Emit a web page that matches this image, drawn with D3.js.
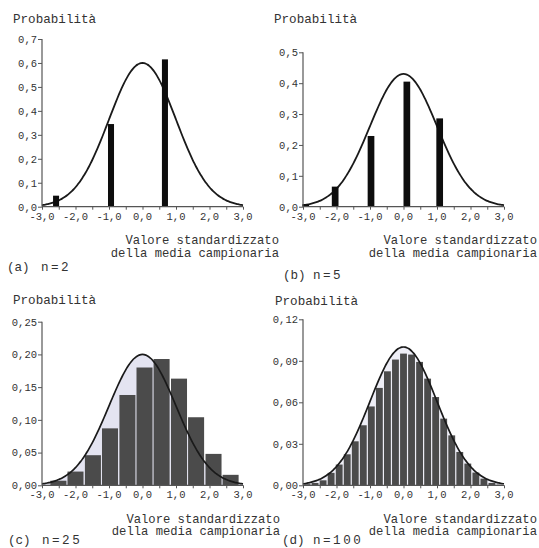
<!DOCTYPE html>
<html>
<head>
<meta charset="utf-8">
<script src="https://cdn.jsdelivr.net/npm/d3@7"></script>
<style>
  html, body { margin: 0; padding: 0; background: #fff; }
  svg { display: block; }
  text { font-family: "Liberation Mono", "Courier New", monospace; fill: #333; }
</style>
</head>
<body>
<svg id="chart" width="539" height="548"></svg>
<script>
// Sampling distribution of the standardized sample mean for growing n

// x-axis ticks (shared by all four panels)
const xTickValues = [-3, -2, -1, 0, 1, 2, 3];
const xTickLabels = ["-3,0", "-2,0", "-1,0", "0,0", "1,0", "2,0", "3,0"];
const xMinorTicks = [-3, -2.5, -2, -1.5, -1, -0.5, 0, 0.5, 1, 1.5, 2, 2.5, 3];

// (a) n = 2
const aValues = [-2.58, -0.94, 0.67];
const aProbs  = [0.046, 0.345, 0.615];
const aYTicks = [0, 0.1, 0.2, 0.3, 0.4, 0.5, 0.6, 0.7];
const aYLabels = ["0,0", "0,1", "0,2", "0,3", "0,4", "0,5", "0,6", "0,7"];

// (b) n = 5
const bValues = [-2.92, -2.04, -0.97, 0.10, 1.08];
const bProbs  = [0.008, 0.065, 0.229, 0.405, 0.286];
const bYTicks = [0, 0.1, 0.2, 0.3, 0.4, 0.5];
const bYLabels = ["0,0", "0,1", "0,2", "0,3", "0,4", "0,5"];

// (c) n = 25
const cValues = [-2.51, -2.00, -1.48, -0.97, -0.45, 0.06, 0.57, 1.09, 1.60, 2.12, 2.63];
const cProbs  = [0.007, 0.021, 0.046, 0.087, 0.138, 0.180, 0.193, 0.163, 0.104, 0.048, 0.016];
const cYTicks = [0, 0.05, 0.10, 0.15, 0.20, 0.25];
const cYLabels = ["0,00", "0,05", "0,10", "0,15", "0,20", "0,25"];

// (d) n = 100
const dValues = [-2.88, -2.64, -2.40, -2.16, -1.92, -1.68, -1.44, -1.20, -0.96, -0.72, -0.48, -0.24,
                 0.00, 0.24, 0.48, 0.72, 0.96, 1.20, 1.44, 1.68, 1.92, 2.16, 2.40, 2.64, 2.88];
const dProbs  = [0.0008, 0.0017, 0.0036, 0.0090, 0.0150, 0.0224, 0.0318, 0.0434, 0.0570, 0.0704, 0.0824, 0.0909,
                 0.0952, 0.0945, 0.0892, 0.0771, 0.0638, 0.0482, 0.0361, 0.0241, 0.0157, 0.0092, 0.0048, 0.0017, 0.0005];
const dYTicks = [0, 0.03, 0.06, 0.09, 0.12];
const dYLabels = ["0,00", "0,03", "0,06", "0,09", "0,12"];

// peak height of the normal reference curve in each panel
const curvePeaks = [0.6, 0.43, 0.2, 0.1];

const panelTags = ["(a)", "(b)", "(c)", "(d)"];
const panelN = ["n=2", "n=5", "n=25", "n=100"];
const yTitle = "Probabilità";
const xTitle = ["Valore standardizzato", "della media campionaria"];

const svg = d3.select("#chart");

const panels = [
  { values: aValues, probs: aProbs, yTicks: aYTicks, yLabels: aYLabels, peak: curvePeaks[0],
    tag: panelTags[0], n: panelN[0], style: "spike", barW: 0.18,
    x0: 42, x1: 243, yTop: 39, yBot: 206.7,
    titleX: 13, titleY: 23, xtY: 244, xtEnd: 279, tagX: 7, nX: 41, tagY: 271 },
  { values: bValues, probs: bProbs, yTicks: bYTicks, yLabels: bYLabels, peak: curvePeaks[1],
    tag: panelTags[1], n: panelN[1], style: "spike", barW: 0.2,
    x0: 303, x1: 504, yTop: 52.3, yBot: 206.7,
    titleX: 274, titleY: 23, xtY: 244, xtEnd: 537, tagX: 283, nX: 313, tagY: 279 },
  { values: cValues, probs: cProbs, yTicks: cYTicks, yLabels: cYLabels, peak: curvePeaks[2],
    tag: panelTags[2], n: panelN[2], style: "hist", barW: 0.514, shade: "#e4e4f1",
    x0: 42, x1: 243, yTop: 321.7, yBot: 485.3,
    titleX: 13, titleY: 304, xtY: 522.5, xtEnd: 280, tagX: 8, nX: 42, tagY: 544 },
  { values: dValues, probs: dProbs, yTicks: dYTicks, yLabels: dYLabels, peak: curvePeaks[3],
    tag: panelTags[3], n: panelN[3], style: "hist", barW: 0.24, shade: "#eeeef6",
    x0: 303, x1: 504, yTop: 319.3, yBot: 485.3,
    titleX: 275, titleY: 305, xtY: 522.5, xtEnd: 537, tagX: 282, nX: 313, tagY: 544 }
];

panels.forEach(p => {
  const g = svg.append("g");
  const yMax = p.yTicks[p.yTicks.length - 1];
  const x = d3.scaleLinear().domain([-3, 3]).range([p.x0, p.x1]);
  const y = d3.scaleLinear().domain([0, yMax]).range([p.yBot, p.yTop]);

  // normal reference curve
  const xs = d3.range(-3, 3.0001, 0.05);
  const curve = xs.map(v => [v, p.peak * Math.exp(-v * v / 2)]);

  if (p.style === "hist") {
    g.append("path")
      .datum(curve)
      .attr("fill", p.shade)
      .attr("d", d3.area().x(d => x(d[0])).y0(y(0)).y1(d => y(d[1])).curve(d3.curveBasis));
  }

  const bw = x(p.barW) - x(0);
  const bars = p.values.map((v, i) => ({ v, p: p.probs[i] }));

  if (p.style === "spike") {
    g.append("path")
      .datum(curve)
      .attr("fill", "none").attr("stroke", "#1a1a1a").attr("stroke-width", 1.8)
      .attr("d", d3.line().x(d => x(d[0])).y(d => y(d[1])).curve(d3.curveBasis));
    g.selectAll("rect.bar").data(bars).join("rect")
      .attr("class", "bar")
      .attr("x", d => x(d.v) - bw / 2)
      .attr("width", bw)
      .attr("y", d => y(d.p))
      .attr("height", d => y(0) - y(d.p))
      .attr("fill", "#0d0d0d");
  } else {
    g.selectAll("rect.bar").data(bars).join("rect")
      .attr("class", "bar")
      .attr("x", d => x(d.v) - bw / 2 + 0.6)
      .attr("width", bw - 1.2)
      .attr("y", d => y(d.p))
      .attr("height", d => y(0) - y(d.p))
      .attr("fill", "#4b4b4b");
    g.append("path")
      .datum(curve)
      .attr("fill", "none").attr("stroke", "#1a1a1a").attr("stroke-width", 1.7)
      .attr("d", d3.line().x(d => x(d[0])).y(d => y(d[1])).curve(d3.curveBasis));
  }

  // x axis: minor ticks every 0.5, labels on the integers
  const xAxis = d3.axisBottom(x).tickValues(xMinorTicks).tickSize(3).tickFormat("");
  const gx = g.append("g").attr("transform", `translate(0,${p.yBot})`).call(xAxis);
  gx.select(".domain").attr("d", `M${p.x0},0H${p.x1}`).attr("stroke", "#555").attr("stroke-width", 1.2);
  gx.selectAll(".tick line").attr("stroke", "#555");
  gx.selectAll(".tick text").remove();
  g.selectAll("text.xl").data(xTickValues).join("text")
    .attr("class", "xl")
    .attr("x", d => x(d))
    .attr("y", p.yBot + 13)
    .attr("text-anchor", "middle")
    .attr("font-size", 10.5)
    .text((d, i) => xTickLabels[i]);

  // y axis
  const yAxis = d3.axisLeft(y).tickValues(p.yTicks).tickSize(4).tickFormat((d, i) => p.yLabels[i]);
  const gy = g.append("g").attr("transform", `translate(${p.x0},0)`).call(yAxis);
  gy.select(".domain").attr("d", `M0,${p.yBot}V${p.yTop}`).attr("stroke", "#555").attr("stroke-width", 1.2);
  gy.selectAll(".tick line").attr("stroke", "#555");
  gy.selectAll(".tick text")
    .attr("x", -5)
    .attr("font-size", 10.5)
    .attr("font-family", "'Liberation Mono', 'Courier New', monospace")
    .attr("fill", "#444");

  // titles
  g.append("text").attr("x", p.titleX).attr("y", p.titleY)
    .attr("font-size", 12.6).text(yTitle);
  g.append("text").attr("x", p.xtEnd).attr("y", p.xtY)
    .attr("text-anchor", "end").attr("font-size", 12.2).text(xTitle[0]);
  g.append("text").attr("x", p.xtEnd).attr("y", p.xtY + 12.5)
    .attr("text-anchor", "end").attr("font-size", 12.2).text(xTitle[1]);

  // panel tag and sample size
  g.append("text").attr("x", p.tagX).attr("y", p.tagY)
    .attr("font-size", 12.6).text(p.tag);
  g.append("text").attr("x", p.nX).attr("y", p.tagY)
    .attr("font-size", 12.6).attr("letter-spacing", 2.5).text(p.n);
});
</script>
</body>
</html>
